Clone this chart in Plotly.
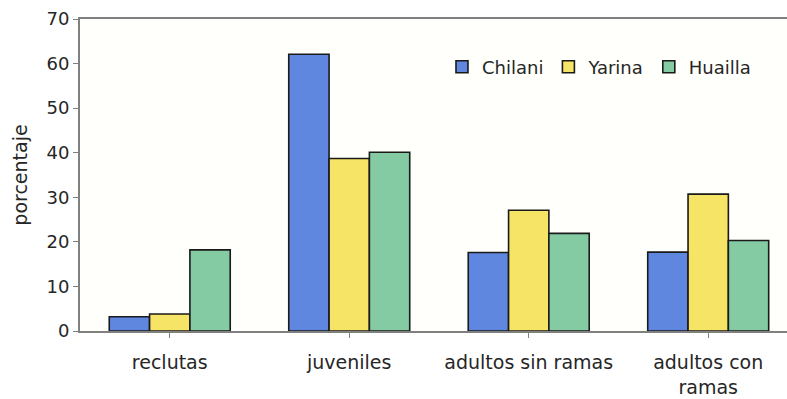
import plotly.graph_objects as go

categories = ["reclutas", "juveniles", "adultos sin ramas", "adultos con<br>ramas"]
chilani = [3.2, 62.1, 17.6, 17.7]
yarina = [3.8, 38.7, 27.1, 30.7]
huailla = [18.2, 40.1, 21.9, 20.3]

series = [
    ("Chilani", chilani, "#6087df"),
    ("Yarina", yarina, "#f5e465"),
    ("Huailla", huailla, "#84caa3"),
]

FONT = "DejaVu Sans"
TXT = "#262626"
AX = "#808080"

fig = go.Figure()
for name, vals, col in series:
    fig.add_trace(go.Bar(
        x=list(range(len(categories))), y=vals, name=name,
        marker=dict(color=col, line=dict(color="#1a1a1a", width=1.6)),
    ))

fig.update_layout(
    width=787, height=399,
    margin=dict(l=80, r=0, t=19, b=68),
    paper_bgcolor="white", plot_bgcolor="#fffffb",
    barmode="group", bargap=0.326, bargroupgap=0,
    font=dict(family=FONT, size=18, color=TXT),
    showlegend=True,
    legend=dict(orientation="h", x=0.512, xanchor="left", y=0.846, yanchor="middle",
                font=dict(family=FONT, size=18, color=TXT),
                bgcolor="rgba(0,0,0,0)", itemwidth=30, traceorder="normal"),
)
fig.update_xaxes(
    range=[-0.5, 3.439], tickmode="array",
    tickvals=list(range(len(categories))), ticktext=categories,
    tickson="boundaries", ticks="outside", ticklen=5, tickcolor=AX,
    showline=True, linecolor=AX, linewidth=2, mirror=True,
    showgrid=False, zeroline=False, ticklabelstandoff=8,
    tickfont=dict(family=FONT, size=19, color=TXT),
)
fig.update_yaxes(
    range=[0, 70], tickvals=[0, 10, 20, 30, 40, 50, 60, 70],
    ticks="outside", ticklen=5, tickcolor=AX,
    showline=True, linecolor=AX, linewidth=2, mirror=False,
    showgrid=False, zeroline=False,
    tickfont=dict(family=FONT, size=18, color=TXT),
    title=dict(text="porcentaje", font=dict(family=FONT, size=19, color=TXT), standoff=14),
)
fig.write_html("out.html")
